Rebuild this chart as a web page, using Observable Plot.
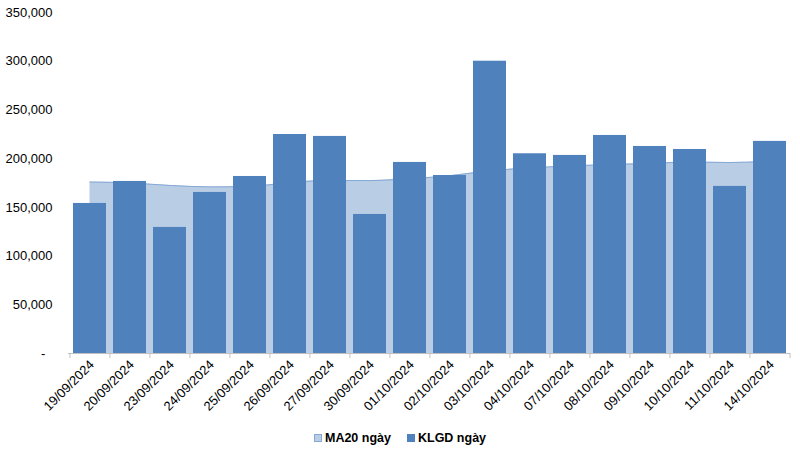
<!DOCTYPE html>
<html>
<head>
<meta charset="utf-8">
<script src="https://cdn.jsdelivr.net/npm/d3@7"></script>
<script src="https://cdn.jsdelivr.net/npm/@observablehq/plot@0.6"></script>
<style>
  html, body { margin: 0; padding: 0; background: #fff; }
  #chart { width: 800px; }
  .legend { display: flex; justify-content: center; align-items: center; gap: 16px;
    font-family: "Liberation Sans", Arial, sans-serif; font-size: 12.5px; font-weight: bold; color: #000;
    height: 20px; margin-top: 8px; }
  .legend span.sw { display: inline-block; width: 6px; height: 6px; margin-right: 3px; vertical-align: middle; }
  .legend .item { display: flex; align-items: center; }
</style>
</head>
<body>
<div id="chart"></div>
<script>
const dates = ["19/09/2024","20/09/2024","23/09/2024","24/09/2024","25/09/2024","26/09/2024","27/09/2024","30/09/2024","01/10/2024","02/10/2024","03/10/2024","04/10/2024","07/10/2024","08/10/2024","09/10/2024","10/10/2024","11/10/2024","14/10/2024"];
const klgd = [154000,176600,129400,165300,181700,224800,222800,142700,196100,182700,300000,205000,203300,223800,212500,209400,171500,217700];
const ma20 = [176000,175000,172500,171000,171500,175500,177500,177500,179500,182500,187500,190500,192500,194000,195000,196500,196000,197500];
const yTicks = [0,50000,100000,150000,200000,250000,300000,350000];
const seriesNames = ["MA20 ngày","KLGD ngày"];
const seriesColors = ["#b9cde5","#4f81bd"];

const data = dates.map((d, i) => ({date: d, kl: klgd[i], ma: ma20[i]}));

const W = 800, mL = 68, mR = 10;
const step = (W - mL - mR) / dates.length;

const chart = Plot.plot({
  width: W, height: 420,
  marginTop: 12, marginBottom: 67, marginLeft: mL, marginRight: mR,
  style: {fontFamily: "'Liberation Sans', Arial, sans-serif", fontSize: "12px", color: "#000", background: "#fff"},
  x: {domain: dates, paddingInner: 0.18, paddingOuter: 0.09, axis: null, label: null},
  y: {domain: [0, 350000], axis: null, label: null},
  marks: [
    Plot.areaY(data, {x: "date", y: "ma", fill: seriesColors[0], curve: "monotone-x"}),
    Plot.lineY(data, {x: "date", y: "ma", stroke: "#86a9d6", strokeWidth: 1, curve: "monotone-x"}),
    Plot.barY(data, {x: "date", y: "kl", fill: seriesColors[1]}),
    Plot.ruleY([0], {stroke: "#c0c0c0"}),
    Plot.axisY({ticks: yTicks, tickSize: 0, tickPadding: 16, fontSize: 13,
      tickFormat: d => d === 0 ? "-\u00a0\u00a0" : d3.format(",")(d)}),
    Plot.axisX({tickSize: 5, tickFormat: () => "", dx: -step / 2, stroke: "#c0c0c0"}),
    Plot.axisX({ticks: [dates[dates.length - 1]], tickSize: 5, tickFormat: () => "", dx: step / 2, stroke: "#c0c0c0"}),
    Plot.axisX({tickSize: 0, tickRotate: -45, tickPadding: 9, fontSize: 13, dx: 2})
  ]
});
document.getElementById("chart").appendChild(chart);

const legend = document.createElement("div");
legend.className = "legend";
seriesNames.forEach((n, i) => {
  const it = document.createElement("div");
  it.className = "item";
  const sw = document.createElement("span");
  sw.className = "sw";
  sw.style.background = seriesColors[i];
  sw.style.border = "1px solid " + (i === 0 ? "#86a9d6" : seriesColors[1]);
  it.appendChild(sw);
  it.appendChild(document.createTextNode(n));
  legend.appendChild(it);
});
document.getElementById("chart").appendChild(legend);
</script>
</body>
</html>
